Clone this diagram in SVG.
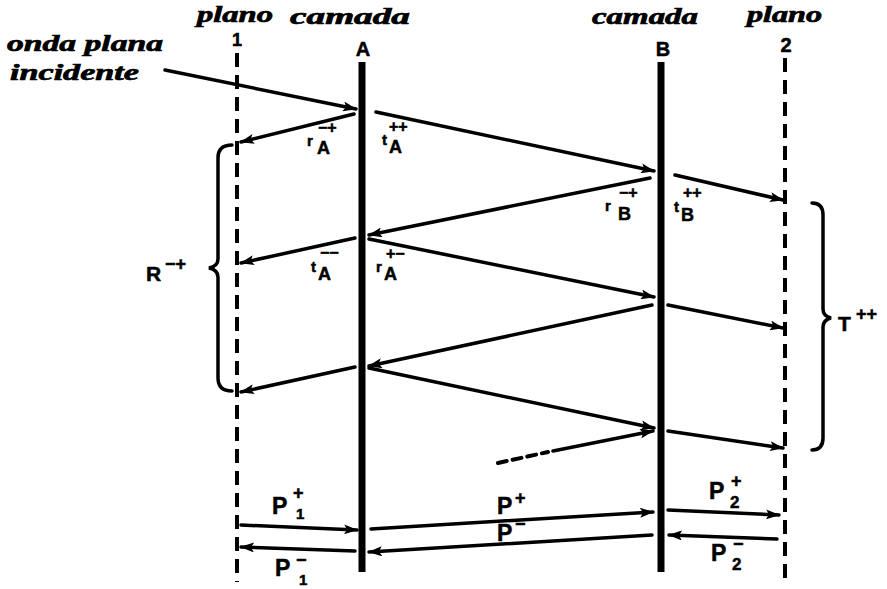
<svg xmlns="http://www.w3.org/2000/svg" width="887" height="589" viewBox="0 0 887 589">
<style>
.it{font-family:"Liberation Serif",serif;font-style:italic;font-weight:bold;font-size:23px;fill:#000;stroke:#000;stroke-width:0.7}
.lb{font-family:"Liberation Sans",Arial,sans-serif;font-weight:bold;fill:#000;stroke:#000;stroke-width:0.5}
.ray{stroke:#000;stroke-width:3.5;fill:none;stroke-linecap:round;marker-end:url(#ah)}
.plane{stroke:#000;stroke-width:4;stroke-dasharray:14 8;fill:none}
.layer{stroke:#000;stroke-width:7;fill:none}
.brace{stroke:#000;stroke-width:3.5;fill:none;stroke-linecap:round}
</style>
<defs>
<marker id="ah" viewBox="0 0 14 10" refX="13" refY="5" markerWidth="14" markerHeight="10" orient="auto" markerUnits="userSpaceOnUse"><path d="M0,0 L14,5 L0,10 L3,5 Z" fill="#000"/></marker>
</defs>
<rect width="887" height="589" fill="#fff"/>

<g id="titles">
<text class="it" x="197" y="22" textLength="76" lengthAdjust="spacingAndGlyphs">plano</text>
<text class="it" x="290" y="24" textLength="120" lengthAdjust="spacingAndGlyphs">camada</text>
<text class="it" x="592" y="24" textLength="106" lengthAdjust="spacingAndGlyphs">camada</text>
<text class="it" x="747" y="22" textLength="75" lengthAdjust="spacingAndGlyphs">plano</text>
<text class="it" x="7" y="51" textLength="156" lengthAdjust="spacingAndGlyphs">onda plana</text>
<text class="it" x="10" y="80" textLength="129" lengthAdjust="spacingAndGlyphs">incidente</text>
</g>

<g id="plane1">
<text class="lb" x="237" y="46" font-size="18" text-anchor="middle">1</text>
<line class="plane" x1="237" y1="53" x2="237" y2="582"/>
</g>
<g id="layerA">
<text class="lb" x="363" y="56" font-size="20" text-anchor="middle">A</text>
<line class="layer" x1="362" y1="62" x2="362" y2="572"/>
</g>
<g id="layerB">
<text class="lb" x="663" y="56" font-size="20" text-anchor="middle">B</text>
<line class="layer" x1="661" y1="62" x2="661" y2="572"/>
</g>
<g id="plane2">
<text class="lb" x="786" y="52" font-size="20" text-anchor="middle">2</text>
<line class="plane" x1="785" y1="58" x2="785" y2="582"/>
</g>

<g id="connectors">
<line class="ray" x1="165" y1="70" x2="356" y2="109"/>
<line class="ray" x1="354" y1="114" x2="241" y2="142"/>
<line class="ray" x1="376" y1="112" x2="654" y2="171"/>
<line class="ray" x1="650" y1="178" x2="369" y2="235"/>
<line class="ray" x1="675" y1="175" x2="783" y2="200"/>
<line class="ray" x1="355" y1="238" x2="241" y2="263"/>
<line class="ray" x1="369" y1="239" x2="654" y2="297"/>
<line class="ray" x1="668" y1="305" x2="783" y2="328"/>
<line class="ray" x1="652" y1="305" x2="369" y2="366"/>
<line class="ray" x1="355" y1="367" x2="241" y2="392"/>
<line class="ray" x1="369" y1="368" x2="654" y2="428"/>
<line class="ray" x1="668" y1="431" x2="783" y2="448"/>
<line stroke="#000" stroke-width="4" stroke-dasharray="9 6" stroke-linecap="round" x1="498" y1="463" x2="548" y2="452"/>
<line class="ray" x1="553" y1="451" x2="653" y2="431"/>
<line class="ray" x1="241" y1="525" x2="357" y2="530"/>
<line class="ray" x1="355" y1="551" x2="241" y2="547"/>
<line class="ray" x1="371" y1="529" x2="653" y2="512"/>
<line class="ray" x1="652" y1="535" x2="369" y2="552"/>
<line class="ray" x1="668" y1="510" x2="779" y2="515"/>
<line class="ray" x1="777" y1="539" x2="669" y2="535"/>
<path class="brace" d="M232,145 Q218,145 218,158 L218,259 Q218,266 209,268 Q218,270 218,277 L218,378 Q218,391 232,391"/>
<path class="brace" d="M812,203 Q823,203 823,215 L823,309 Q823,316 831,318 Q823,320 823,327 L823,438 Q823,450 812,450"/>
</g>

<g id="coef-labels">
<text class="lb" x="307" y="146" font-size="15">r</text>
<text class="lb" x="317" y="154" font-size="18">A</text>
<text class="lb" x="318" y="133" font-size="16">−+</text>

<text class="lb" x="382" y="145" font-size="15">t</text>
<text class="lb" x="389" y="153" font-size="18">A</text>
<text class="lb" x="389" y="132" font-size="16">++</text>

<text class="lb" x="605" y="211" font-size="15">r</text>
<text class="lb" x="618" y="220" font-size="18">B</text>
<text class="lb" x="619" y="198" font-size="16">−+</text>

<text class="lb" x="674" y="212" font-size="15">t</text>
<text class="lb" x="681" y="221" font-size="18">B</text>
<text class="lb" x="683" y="198" font-size="16">++</text>

<text class="lb" x="311" y="272" font-size="15">t</text>
<text class="lb" x="318" y="280" font-size="18">A</text>
<text class="lb" x="320" y="258" font-size="16">−−</text>

<text class="lb" x="376" y="272" font-size="15">r</text>
<text class="lb" x="384" y="280" font-size="18">A</text>
<text class="lb" x="386" y="259" font-size="16">+−</text>
</g>

<g id="R">
<text class="lb" x="146" y="281" font-size="21">R</text>
<text class="lb" x="165" y="270" font-size="18">−+</text>
</g>
<g id="T">
<text class="lb" x="838" y="331" font-size="21">T</text>
<text class="lb" x="856" y="320" font-size="18">++</text>
</g>

<g id="P-labels">
<text class="lb" x="272" y="514" font-size="23">P</text>
<text class="lb" x="293" y="499" font-size="18">+</text>
<text class="lb" x="296" y="519" font-size="15">1</text>

<text class="lb" x="275" y="576" font-size="23">P</text>
<text class="lb" x="296" y="566" font-size="18">−</text>
<text class="lb" x="299" y="585" font-size="15">1</text>

<text class="lb" x="497" y="514" font-size="23">P</text>
<text class="lb" x="515" y="504" font-size="18">+</text>

<text class="lb" x="497" y="541" font-size="23">P</text>
<text class="lb" x="515" y="530" font-size="18">−</text>

<text class="lb" x="709" y="499" font-size="23">P</text>
<text class="lb" x="731" y="487" font-size="18">+</text>
<text class="lb" x="730" y="508" font-size="17">2</text>

<text class="lb" x="711" y="561" font-size="23">P</text>
<text class="lb" x="733" y="550" font-size="18">−</text>
<text class="lb" x="732" y="570" font-size="17">2</text>
</g>
</svg>
